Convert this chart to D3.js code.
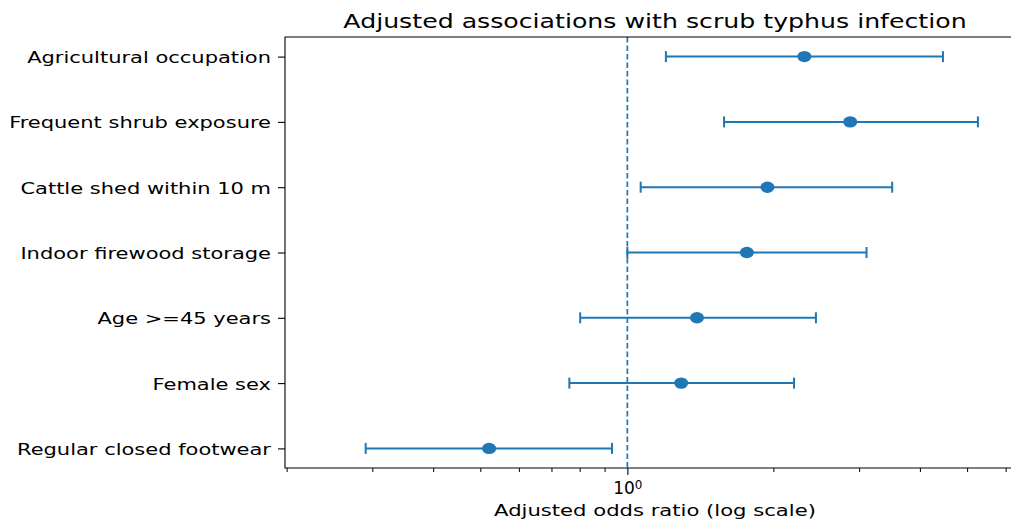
<!DOCTYPE html>
<html>
<head>
<meta charset="utf-8">
<script src="https://cdn.jsdelivr.net/npm/d3@7"></script>
<style>
  body { margin: 0; background: #fff; }
  svg { display: block; }
  text { font-family: "DejaVu Sans", sans-serif; fill: #000; }
</style>
</head>
<body>
<script>
// chart data, top row first
var factors = ["Agricultural occupation", "Frequent shrub exposure", "Cattle shed within 10 m",
    "Indoor firewood storage", "Age >=45 years", "Female sex", "Regular closed footwear"];
var oddsRatio = [2.31, 2.87, 1.94, 1.76, 1.39, 1.29, 0.52];
var lowerCI = [1.20, 1.58, 1.065, 1.00, 0.80, 0.76, 0.29];
var upperCI = [4.45, 5.25, 3.50, 3.10, 2.44, 2.20, 0.93];
var majorTicks = [1];
var minorTicks = [0.2, 0.3, 0.4, 0.5, 0.6, 0.7, 0.8, 0.9, 2, 3, 4, 5, 6];

var width = 1011, height = 519,
    plotLeft = 285, plotRight = 1025, plotTop = 37, plotBottom = 468,
    stretch = 1.28,
    blue = "#1f77b4";

var svg = d3.select("body").append("svg")
    .attr("width", width)
    .attr("height", height);

var x = d3.scaleLog().domain([0.198, 6.56]).range([plotLeft, plotRight]);
var y = d3.scaleLinear().domain([-0.3, factors.length - 0.7]).range([plotTop, plotBottom]);

// the source picture is a bit wider than tall, text too
function widen(sel) {
    sel.each(function() {
        var w = this.getComputedTextLength();
        d3.select(this).attr("textLength", w * stretch).attr("lengthAdjust", "spacingAndGlyphs");
    });
}

// reference line at OR = 1
svg.append("line")
    .attr("x1", x(1)).attr("x2", x(1))
    .attr("y1", plotTop).attr("y2", plotBottom)
    .style("stroke", blue)
    .style("stroke-width", 1.7)
    .style("stroke-dasharray", "5.5,3");

var rows = svg.selectAll(".row")
    .data(factors)
    .enter().append("g")
    .attr("class", "row")
    .attr("transform", function(d, i) { return "translate(0," + y(i) + ")"; });

rows.append("line")
    .attr("x1", function(d, i) { return x(lowerCI[i]); })
    .attr("x2", function(d, i) { return x(upperCI[i]); })
    .style("stroke", blue)
    .style("stroke-width", 2);

rows.selectAll(".cap")
    .data(function(d, i) { return [lowerCI[i], upperCI[i]]; })
    .enter().append("line")
    .attr("class", "cap")
    .attr("x1", function(v) { return x(v); })
    .attr("x2", function(v) { return x(v); })
    .attr("y1", -5.5).attr("y2", 5.5)
    .style("stroke", blue)
    .style("stroke-width", 2);

rows.append("ellipse")
    .attr("cx", function(d, i) { return x(oddsRatio[i]); })
    .attr("rx", 7)
    .attr("ry", 5.7)
    .style("fill", blue);

// y axis
var yAxis = svg.append("g")
    .attr("transform", "translate(" + plotLeft + ",0)")
    .call(d3.axisLeft(y)
        .tickValues(d3.range(factors.length))
        .tickFormat(function(i) { return factors[i]; })
        .tickSize(7).tickPadding(7));
yAxis.select(".domain").remove();
yAxis.selectAll("text").style("font-size", "16.4px").attr("dy", "0.36em").attr("fill", "#000").call(widen);
yAxis.selectAll("line").style("stroke-width", 1.1);

// x axis minor ticks
svg.append("g")
    .attr("transform", "translate(0," + plotBottom + ")")
    .selectAll("line")
    .data(minorTicks)
    .enter().append("line")
    .attr("x1", function(v) { return x(v); })
    .attr("x2", function(v) { return x(v); })
    .attr("y1", 0).attr("y2", 4)
    .style("stroke", "#000")
    .style("stroke-width", 1);

var xAxis = svg.append("g")
    .attr("transform", "translate(0," + plotBottom + ")")
    .call(d3.axisBottom(x).tickValues(majorTicks).tickFormat("").tickSize(7));
xAxis.select(".domain").remove();
xAxis.selectAll("line").style("stroke-width", 1.1);
var tickLabel = xAxis.selectAll(".tick").append("text")
    .attr("y", 26)
    .attr("text-anchor", "middle")
    .attr("fill", "#000")
    .style("font-size", "17px");
tickLabel.append("tspan").text("10");
tickLabel.append("tspan").attr("dy", "-0.45em").style("font-size", "12px").text("0");

// spines
svg.append("path")
    .attr("d", "M" + plotRight + "," + plotTop + "H" + plotLeft + "V" + plotBottom + "H" + plotRight)
    .style("fill", "none")
    .style("stroke", "#000")
    .style("stroke-width", 1.1);

svg.append("text")
    .attr("x", (plotLeft + plotRight) / 2)
    .attr("y", 28)
    .attr("text-anchor", "middle")
    .style("font-size", "19.7px")
    .text("Adjusted associations with scrub typhus infection")
    .call(widen);

svg.append("text")
    .attr("x", (plotLeft + plotRight) / 2)
    .attr("y", 516)
    .attr("text-anchor", "middle")
    .style("font-size", "16.5px")
    .text("Adjusted odds ratio (log scale)")
    .call(widen);
</script>
</body>
</html>
